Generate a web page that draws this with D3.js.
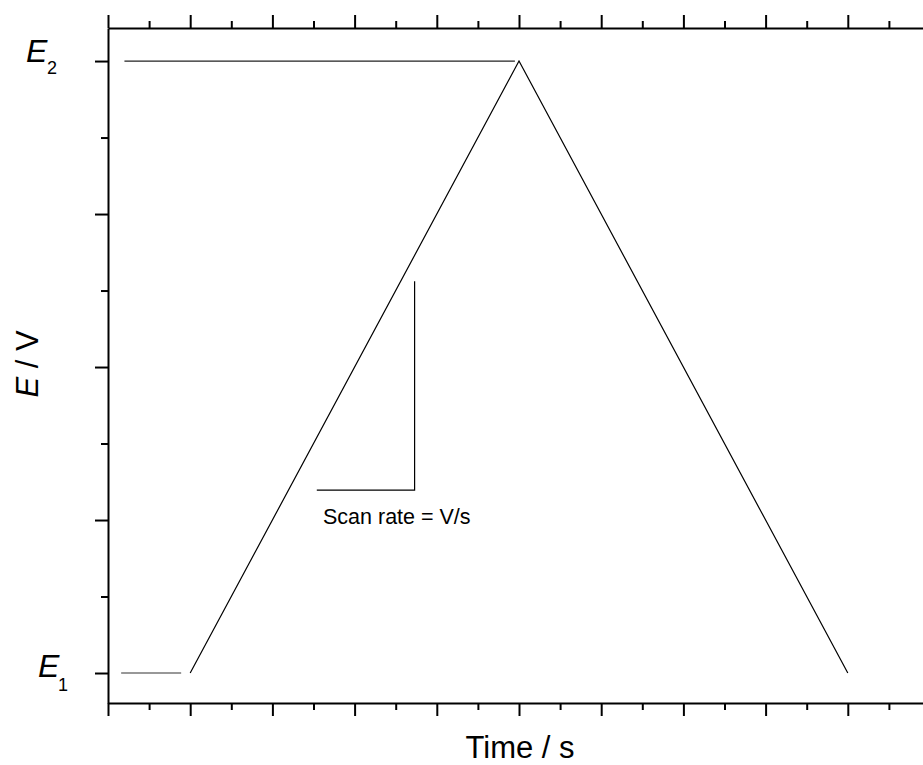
<!DOCTYPE html>
<html>
<head>
<meta charset="utf-8">
<script src="https://cdn.jsdelivr.net/npm/d3@7"></script>
<style>
  body { margin: 0; background: #fff; }
  text { font-family: "Liberation Sans", Arial, sans-serif; }
</style>
</head>
<body>
<script>
// potential sweep: start at E1, ramp to E2, back to E1
var sweepTime = [1, 5, 9];
var sweepPotential = [0, 1, 0];

// short guide lines at the E1 and E2 levels
var e1Time = [0.16, 0.89];
var e1Potential = [0, 0];
var e2Time = [0.2, 4.95];
var e2Potential = [1, 1];

// scan-rate triangle (vertical leg + horizontal leg)
var rateTime = [2.54, 3.73, 3.73];
var ratePotential = [0.299, 0.299, 0.64];

var xMajor = [0, 1, 2, 3, 4, 5, 6, 7, 8, 9, 10];
var xMinor = [0.5, 1.5, 2.5, 3.5, 4.5, 5.5, 6.5, 7.5, 8.5, 9.5];
var yMajor = [0, 0.25, 0.5, 0.75, 1];
var yMinor = [0.125, 0.375, 0.625, 0.875];

var width = 923, height = 765;

var svg = d3.select("body").append("svg")
  .attr("width", width).attr("height", height);

var x = d3.scaleLinear().domain([0, 10]).range([108, 930]);
var y = d3.scaleLinear().domain([-0.049, 1.054]).range([703, 28]);

function drawAxis(axisFn, scale, ticks, size, transform) {
  var g = svg.append("g")
    .attr("transform", transform)
    .call(axisFn(scale).tickValues(ticks).tickSize(size).tickSizeOuter(0).tickFormat(""));
  g.selectAll("path, line").attr("stroke", "#000").attr("stroke-width", 2);
  return g;
}

// major + minor ticks on bottom, top, left
drawAxis(d3.axisBottom, x, xMajor, 13, "translate(0,703)");
drawAxis(d3.axisBottom, x, xMinor, 7, "translate(0,703)").select(".domain").remove();
drawAxis(d3.axisTop, x, xMajor, 13, "translate(0,28)");
drawAxis(d3.axisTop, x, xMinor, 7, "translate(0,28)").select(".domain").remove();
drawAxis(d3.axisLeft, y, yMajor, 13, "translate(108,0)");
drawAxis(d3.axisLeft, y, yMinor, 7, "translate(108,0)").select(".domain").remove();

var line = d3.line()
  .x(function(d) { return x(d[0]); })
  .y(function(d) { return y(d[1]); });

function series(t, e) {
  return t.map(function(v, i) { return [v, e[i]]; });
}

svg.append("path").datum(series(sweepTime, sweepPotential))
  .attr("d", line).attr("fill", "none").attr("stroke", "#000").attr("stroke-width", 1.2);
svg.append("path").datum(series(e1Time, e1Potential))
  .attr("d", line).attr("fill", "none").attr("stroke", "#333").attr("stroke-width", 1.2);
svg.append("path").datum(series(e2Time, e2Potential))
  .attr("d", line).attr("fill", "none").attr("stroke", "#222").attr("stroke-width", 1.2);
svg.append("path").datum(series(rateTime, ratePotential))
  .attr("d", line).attr("fill", "none").attr("stroke", "#000").attr("stroke-width", 1.2);

svg.append("text")
  .attr("x", 323).attr("y", 524)
  .attr("font-size", 21.5)
  .text("Scan rate = V/s");

// E1 / E2 tick labels: [subscript, value, x, baseline offset, sub x, sub dy]
var eLabels = [["1", 0, 38, 4, 58, 14], ["2", 1, 26, 1, 47, 12]];
eLabels.forEach(function(d) {
  var base = y(d[1]) + d[3];
  svg.append("text")
    .attr("x", d[2]).attr("y", base)
    .attr("font-size", 32).attr("font-style", "italic")
    .text("E");
  svg.append("text")
    .attr("x", d[4]).attr("y", base + d[5])
    .attr("font-size", 18)
    .text(d[0]);
});

// axis titles
svg.append("text")
  .attr("x", 520).attr("y", 758)
  .attr("text-anchor", "middle")
  .attr("font-size", 31)
  .text("Time / s");

var yt = svg.append("text")
  .attr("transform", "translate(38,364) rotate(-90)")
  .attr("text-anchor", "middle")
  .attr("font-size", 31);
yt.append("tspan").attr("font-style", "italic").text("E");
yt.append("tspan").text(" / V");
</script>
</body>
</html>
